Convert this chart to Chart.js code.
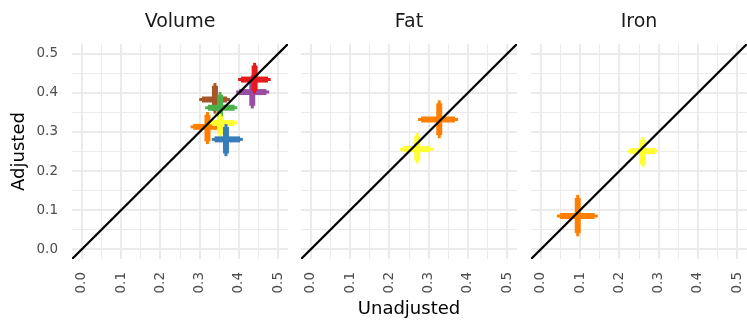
<!DOCTYPE html>
<html><head><meta charset="utf-8">
<script src="https://cdn.jsdelivr.net/npm/chart.js@4/dist/chart.umd.min.js"></script>
<style>
html,body{margin:0;padding:0;background:#fff;width:747px;height:322px;overflow:hidden;}
canvas{position:absolute;top:0;}
</style></head><body>
<canvas id="c1" width="288" height="322" style="left:0px"></canvas>
<canvas id="c2" width="216" height="322" style="left:301px"></canvas>
<canvas id="c3" width="216" height="322" style="left:531px"></canvas>
<script>
// ---- data ----
const facetTitles = ['Volume', 'Fat', 'Iron'];
const majorTicks = [0.0, 0.1, 0.2, 0.3, 0.4, 0.5];
const minorTicks = [0.05, 0.15, 0.25, 0.35, 0.45];
const axisMin = -0.025, axisMax = 0.525;

// Volume (listed top of drawing stack first)
const volColor = ['#E41A1C', '#984EA3', '#377EB8', '#FFFF33', '#FF7F00', '#4DAF4A', '#A65628'];
const volX     = [0.440, 0.434, 0.367, 0.352, 0.320, 0.352, 0.339];
const volXLo   = [0.398, 0.393, 0.331, 0.325, 0.277, 0.314, 0.299];
const volXHi   = [0.481, 0.477, 0.410, 0.396, 0.352, 0.396, 0.377];
const volXLoIn = [0.405, 0.400, 0.338, 0.332, 0.284, 0.321, 0.306];
const volXHiIn = [0.474, 0.470, 0.403, 0.389, 0.345, 0.389, 0.370];
const volY     = [0.434, 0.402, 0.281, 0.323, 0.313, 0.362, 0.383];
const volYLo   = [0.398, 0.360, 0.238, 0.287, 0.269, 0.323, 0.347];
const volYHi   = [0.477, 0.445, 0.320, 0.347, 0.351, 0.402, 0.425];
const volYLoIn = [0.405, 0.367, 0.245, 0.294, 0.276, 0.330, 0.354];
const volYHiIn = [0.470, 0.438, 0.313, 0.340, 0.344, 0.395, 0.418];

// Fat
const fatColor = ['#FFFF33', '#FF7F00'];
const fatX     = [0.271, 0.327];
const fatXLo   = [0.227, 0.273];
const fatXHi   = [0.311, 0.375];
const fatXLoIn = [0.234, 0.281];
const fatXHiIn = [0.304, 0.367];
const fatY     = [0.256, 0.332];
const fatYLo   = [0.220, 0.284];
const fatYHi   = [0.297, 0.381];
const fatYLoIn = [0.227, 0.292];
const fatYHiIn = [0.290, 0.373];

// Iron
const ironColor = ['#FF7F00', '#FFFF33'];
const ironX     = [0.094, 0.260];
const ironXLo   = [0.041, 0.221];
const ironXHi   = [0.145, 0.298];
const ironXLoIn = [0.049, 0.228];
const ironXHiIn = [0.137, 0.291];
const ironY     = [0.085, 0.251];
const ironYLo   = [0.033, 0.210];
const ironYHi   = [0.139, 0.287];
const ironYLoIn = [0.041, 0.217];
const ironYHiIn = [0.131, 0.280];

// ---- chart building ----
Chart.defaults.font.family = "'DejaVu Sans', sans-serif";
Chart.defaults.animation = false;

function crossSets(c, x, xLo, xHi, xLoIn, xHiIn, y, yLo, yHi, yLoIn, yHiIn) {
  const sets = [];
  for (let i = 0; i < x.length; i++) {
    const base = {type: 'line', showLine: true, pointRadius: 0, borderColor: c[i], backgroundColor: c[i], order: 10 + i, fill: false};
    sets.push(Object.assign({}, base, {borderWidth: 3, data: [{x: xLo[i], y: y[i]}, {x: xHi[i], y: y[i]}]}));
    sets.push(Object.assign({}, base, {borderWidth: 3, data: [{x: x[i], y: yLo[i]}, {x: x[i], y: yHi[i]}]}));
    sets.push(Object.assign({}, base, {borderWidth: 6, data: [{x: xLoIn[i], y: y[i]}, {x: xHiIn[i], y: y[i]}]}));
    sets.push(Object.assign({}, base, {borderWidth: 6, data: [{x: x[i], y: yLoIn[i]}, {x: x[i], y: yHiIn[i]}]}));
  }
  sets.push({type: 'line', showLine: true, pointRadius: 0, borderColor: '#000', borderWidth: 2.3, order: 0,
    data: [{x: axisMin, y: axisMin}, {x: axisMax, y: axisMax}]});
  return sets;
}

function buildTicks(scale) {
  const all = majorTicks.concat(minorTicks).sort((a, b) => a - b);
  scale.ticks = all.map(v => ({value: v}));
}
const isMajor = v => majorTicks.some(m => Math.abs(m - v) < 1e-9);
const gridOpts = {
  color: '#EBEBEB',
  lineWidth: ctx => (ctx.tick && isMajor(ctx.tick.value)) ? 2 : 1,
  drawTicks: false
};

function makeChart(id, idx, sets, showY, showXTitle) {
  return new Chart(document.getElementById(id), {
    type: 'scatter',
    data: {datasets: sets},
    options: {
      responsive: false,
      animation: false,
      layout: {padding: 0},
      plugins: {
        legend: {display: false},
        tooltip: {enabled: false},
        title: {display: true, text: facetTitles[idx], fullSize: false, color: '#1A1A1A',
          font: {size: 19, weight: 'normal'}, padding: {top: 11, bottom: 10.2}}
      },
      scales: {
        x: {
          type: 'linear', min: axisMin, max: axisMax,
          afterBuildTicks: buildTicks,
          afterFit: s => { s.height = 63; s.paddingLeft = 0; s.paddingRight = 0; },
          grid: gridOpts,
          border: {display: false},
          ticks: {autoSkip: false, minRotation: 90, maxRotation: 90, padding: 13, color: '#4D4D4D',
            font: {size: 13.5}, callback: v => isMajor(v) ? v.toFixed(1) : ''},
          title: {display: showXTitle, text: 'Unadjusted', color: '#000', font: {size: 18}, padding: {top: 0, bottom: 1.5}}
        },
        y: {
          type: 'linear', min: axisMin, max: axisMax,
          afterBuildTicks: buildTicks,
          afterFit: s => { s.width = showY ? 72 : 0; s.paddingTop = 0; s.paddingBottom = 0; },
          grid: gridOpts,
          border: {display: false},
          ticks: {display: showY, autoSkip: false, padding: 14, color: '#4D4D4D',
            font: {size: 13.5}, callback: v => isMajor(v) ? v.toFixed(1) : ''},
          title: {display: showY, text: 'Adjusted', color: '#000', font: {size: 18}, padding: {top: 8.5, bottom: 0}}
        }
      }
    }
  });
}

makeChart('c1', 0, crossSets(volColor, volX, volXLo, volXHi, volXLoIn, volXHiIn, volY, volYLo, volYHi, volYLoIn, volYHiIn), true, false);
makeChart('c2', 1, crossSets(fatColor, fatX, fatXLo, fatXHi, fatXLoIn, fatXHiIn, fatY, fatYLo, fatYHi, fatYLoIn, fatYHiIn), false, true);
makeChart('c3', 2, crossSets(ironColor, ironX, ironXLo, ironXHi, ironXLoIn, ironXHiIn, ironY, ironYLo, ironYHi, ironYLoIn, ironYHiIn), false, false);
</script>
</body></html>
